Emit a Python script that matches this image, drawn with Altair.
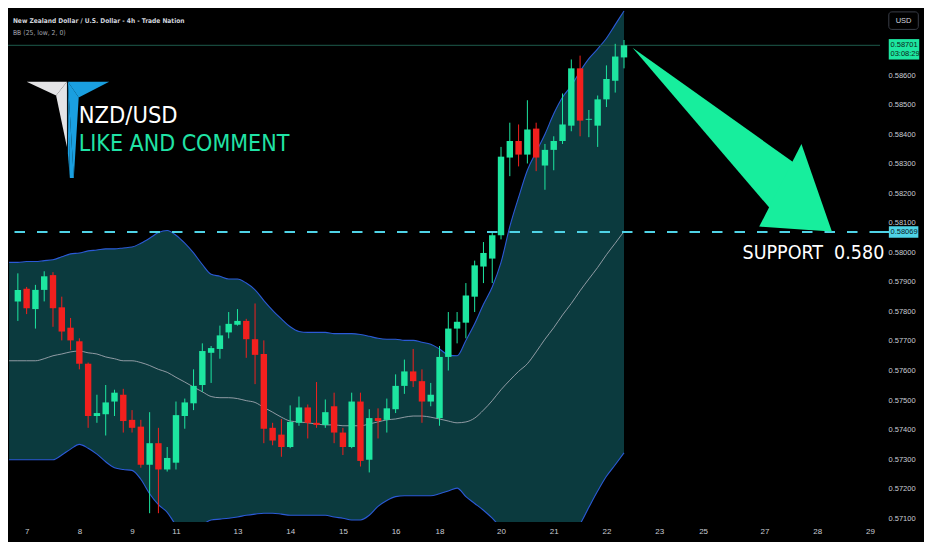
import altair as alt
import pandas as pd

# ---------------- data ----------------
opens = [0.57834,0.57877,0.57808,0.57873,0.57923,0.57814,0.57745,0.57699,0.57623,0.57446,
         0.57452,0.57495,0.57518,0.57433,0.57410,0.57281,0.57354,0.57265,0.57288,0.57446,
         0.57489,0.57551,0.57660,0.57673,0.57729,0.57755,0.57768,0.57706,0.57656,0.57406,
         0.57383,0.57341,0.57423,0.57475,0.57423,0.57416,0.57479,0.57390,0.57341,0.57495,
         0.57298,0.57439,0.57433,0.57469,0.57548,0.57597,0.57564,0.57495,0.57439,0.57646,
         0.57742,0.57762,0.57850,0.57952,0.57979,0.58058,0.58321,0.58377,0.58331,0.58419,
         0.58294,0.58347,0.58377,0.58429,0.58623,0.58449,0.58429,0.58518,0.58581,0.58660]
closes = [0.57873,0.57811,0.57873,0.57919,0.57811,0.57732,0.57702,0.57623,0.57446,0.57456,
          0.57492,0.57525,0.57429,0.57406,0.57281,0.57354,0.57265,0.57304,0.57449,0.57492,
          0.57548,0.57666,0.57676,0.57719,0.57758,0.57768,0.57706,0.57653,0.57403,0.57363,
          0.57341,0.57426,0.57475,0.57423,0.57416,0.57459,0.57390,0.57341,0.57495,0.57294,
          0.57439,0.57429,0.57472,0.57548,0.57597,0.57564,0.57495,0.57518,0.57646,0.57742,
          0.57765,0.57854,0.57956,0.57998,0.58058,0.58324,0.58377,0.58331,0.58416,0.58321,
          0.58347,0.58377,0.58433,0.58623,0.58446,0.58452,0.58518,0.58587,0.58663,0.58701]
highs = [0.57929,0.57883,0.57890,0.57936,0.57933,0.57850,0.57778,0.57709,0.57627,0.57518,
         0.57551,0.57535,0.57538,0.57466,0.57433,0.57459,0.57406,0.57341,0.57495,0.57505,
         0.57604,0.57692,0.57683,0.57752,0.57798,0.57808,0.57775,0.57827,0.57702,0.57423,
         0.57436,0.57482,0.57512,0.57485,0.57561,0.57502,0.57525,0.57406,0.57525,0.57525,
         0.57469,0.57472,0.57505,0.57587,0.57637,0.57673,0.57604,0.57558,0.57683,0.57798,
         0.57798,0.57896,0.57972,0.58035,0.58071,0.58357,0.58439,0.58433,0.58515,0.58439,
         0.58367,0.58393,0.58538,0.58653,0.58666,0.58482,0.58531,0.58633,0.58706,0.58719]
lows = [0.57768,0.57791,0.57742,0.57834,0.57748,0.57702,0.57669,0.57604,0.57406,0.57423,
        0.57380,0.57446,0.57390,0.57390,0.57271,0.57117,0.57117,0.57258,0.57265,0.57403,
        0.57466,0.57528,0.57558,0.57640,0.57709,0.57752,0.57643,0.57554,0.57354,0.57347,
        0.57308,0.57337,0.57413,0.57370,0.57406,0.57406,0.57354,0.57314,0.57337,0.57275,
        0.57255,0.57370,0.57390,0.57456,0.57521,0.57544,0.57423,0.57479,0.57413,0.57600,
        0.57692,0.57709,0.57798,0.57896,0.57896,0.58044,0.58258,0.58291,0.58301,0.58275,
        0.58212,0.58278,0.58367,0.58410,0.58393,0.58390,0.58357,0.58492,0.58541,0.58623]

# Bollinger Bands (25, low, 2) read per bar, bar 0 .. 70
bb_upper = [0.57966,0.57966,0.57969,0.57969,0.57972,0.57975,0.57985,0.57995,0.57998,0.58005,0.58008,
            0.58012,0.58012,0.58015,0.58018,0.58031,0.58048,0.58067,0.58074,0.58058,0.58031,
            0.57998,0.57959,0.57926,0.57919,0.57910,0.57910,0.57896,0.57873,0.57837,0.57804,
            0.57775,0.57748,0.57732,0.57729,0.57729,0.57729,0.57725,0.57725,0.57725,0.57722,
            0.57716,0.57709,0.57706,0.57706,0.57702,0.57702,0.57696,0.57689,0.57673,0.57653,
            0.57650,0.57702,0.57758,0.57824,0.57883,0.57966,0.58087,0.58186,0.58278,0.58340,
            0.58400,0.58469,0.58525,0.58564,0.58613,0.58656,0.58689,0.58725,0.58771,0.58817]
bb_basis = [0.57633,0.57633,0.57633,0.57633,0.57640,0.57650,0.57656,0.57663,0.57666,0.57660,0.57656,
            0.57646,0.57640,0.57633,0.57633,0.57627,0.57617,0.57604,0.57594,0.57577,0.57561,
            0.57544,0.57528,0.57512,0.57508,0.57508,0.57505,0.57498,0.57492,0.57475,0.57459,
            0.57442,0.57429,0.57426,0.57423,0.57419,0.57416,0.57416,0.57413,0.57413,0.57413,
            0.57419,0.57426,0.57433,0.57436,0.57442,0.57446,0.57446,0.57442,0.57436,0.57429,
            0.57423,0.57426,0.57439,0.57466,0.57498,0.57535,0.57567,0.57597,0.57623,0.57663,
            0.57706,0.57745,0.57788,0.57827,0.57870,0.57910,0.57949,0.57992,0.58031,0.58071]
bb_lower = [0.57298,0.57298,0.57298,0.57298,0.57298,0.57298,0.57314,0.57334,0.57350,0.57337,0.57317,
            0.57291,0.57271,0.57265,0.57262,0.57232,0.57183,0.57146,0.57120,0.57077,0.57051,
            0.57051,0.57077,0.57094,0.57097,0.57100,0.57104,0.57110,0.57114,0.57117,0.57117,
            0.57114,0.57110,0.57110,0.57110,0.57110,0.57110,0.57104,0.57100,0.57094,0.57094,
            0.57110,0.57140,0.57160,0.57173,0.57176,0.57176,0.57176,0.57176,0.57183,0.57192,
            0.57202,0.57173,0.57150,0.57127,0.57100,0.57067,0.57035,0.57002,0.56985,0.56985,
            0.56985,0.57002,0.57025,0.57051,0.57081,0.57137,0.57192,0.57242,0.57281,0.57321]

tick_bars = [2, 8, 14, 19, 26, 32, 38, 44, 49, 56, 62, 68, 74, 79, 86, 92, 98]
tick_days = ["7", "8", "9", "11", "13", "14", "15", "16", "18", "20", "21", "22", "23", "25", "27", "28", "29"]
price_ticks = [0.571, 0.572, 0.573, 0.574, 0.575, 0.576, 0.577, 0.578, 0.579,
               0.580, 0.581, 0.582, 0.583, 0.584, 0.585, 0.586]
support_price = 0.58069
last_price = 0.58701
last_time = "03:08:29"

# ---------------- styling ----------------
GREEN = "#1de6a0"
RED = "#f2201e"
FILL = "#0b3a3e"
BLUE = "#2b5ad6"
BASIS = "#a7abb5"
CYAN = "#4fd3e6"
ARROW = "#17ee9d"
TXT = "#c9ccd4"
NARROW = "Liberation Sans Narrow, DejaVu Sans Condensed, Arial Narrow, sans-serif"
SANS = "Liberation Sans, Arial, sans-serif"

PW, PH = 872, 514
SX, SY = PW / 888.0, PH / 529.0

xs = alt.Scale(domain=[0.4475, 98.57], nice=False, zero=False)
ys = alt.Scale(domain=[0.570872, 0.588273], nice=False, zero=False)

label_expr = "".join(f"datum.value == {b} ? '{d}' : " for b, d in zip(tick_bars, tick_days)) + "''"
x_axis = alt.Axis(values=tick_bars, labelExpr=label_expr, title=None, domain=False, ticks=False,
                  grid=False, labelColor=TXT, labelFontSize=8, labelFont=SANS, labelPadding=5,
                  labelFlush=False, labelOverlap=False)
y_axis = alt.Axis(orient="right", values=price_ticks, format=".5f", title=None, domain=False,
                  ticks=False, grid=False, labelColor=TXT, labelFontSize=7.5, labelFont=SANS,
                  labelPadding=8, labelOverlap=False, labelFlush=False)


def X(f):
    return alt.X(f, type="quantitative", scale=xs, axis=x_axis)


def Y(f):
    return alt.Y(f, type="quantitative", scale=ys, axis=y_axis)


band = pd.DataFrame({"bar": list(range(0, 71)), "upper": bb_upper, "basis": bb_basis, "lower": bb_lower})
cdf = pd.DataFrame({"bar": list(range(1, 71)), "o": opens, "c": closes, "h": highs, "l": lows})
cdf["dir"] = ["up" if c >= o else "down" for o, c in zip(opens, closes)]
colour = alt.Color("dir:N", scale=alt.Scale(domain=["up", "down"], range=[GREEN, RED]), legend=None)

area = alt.Chart(band).mark_area(color=FILL, clip=True, interpolate="monotone").encode(
    x=X("bar"), y=Y("lower"), y2=alt.Y2("upper"))
up_line = alt.Chart(band).mark_line(color=BLUE, strokeWidth=1.1, clip=True, interpolate="monotone").encode(
    x=X("bar"), y=Y("upper"))
lo_line = alt.Chart(band).mark_line(color=BLUE, strokeWidth=1.1, clip=True, interpolate="monotone").encode(
    x=X("bar"), y=Y("lower"))
mid_line = alt.Chart(band).mark_line(color=BASIS, strokeWidth=1, opacity=0.85, clip=True,
                                     interpolate="monotone").encode(x=X("bar"), y=Y("basis"))

last_df = pd.DataFrame({"p": [last_price], "t1": [f"{last_price:.5f}"], "t2": [last_time]})
sup_df = pd.DataFrame({"p": [support_price], "t": [f"{support_price:.5f}"]})

last_line = alt.Chart(last_df).mark_rule(color="#1d5a4c", strokeWidth=1).encode(y=Y("p"))
wicks = alt.Chart(cdf).mark_rule(strokeWidth=1, clip=True).encode(x=X("bar"), y=Y("l"), y2=alt.Y2("h"), color=colour)
bodies = alt.Chart(cdf).mark_bar(size=6.4, clip=True).encode(x=X("bar"), y=Y("o"), y2=alt.Y2("c"), color=colour)
sup_line = alt.Chart(sup_df).mark_rule(color=CYAN, strokeWidth=2, strokeDash=[10.5, 12]).encode(y=Y("p"))
sup_conn = alt.Chart(sup_df).mark_rule(color=CYAN, strokeWidth=2).encode(
    y=Y("p"), x=alt.value(PW), x2=alt.value(PW + 9))

cyan_tag = alt.Chart(sup_df).mark_point(shape="M-1,-0.39L1,-0.39L1,0.39L-1,0.39Z", filled=True,
                                         opacity=1, size=870, color=CYAN, strokeWidth=0).encode(
    x=alt.value(895.6), y=Y("p"))
cyan_txt = alt.Chart(sup_df).mark_text(align="left", baseline="middle", fontSize=7.5, font=SANS,
                                        color="#0c1a1e").encode(x=alt.value(882.5), y=Y("p"), text="t:N")
green_tag = alt.Chart(last_df).mark_point(shape="M-1,-0.67L1,-0.67L1,0.67L-1,0.67Z", filled=True,
                                           opacity=1, size=930, color=GREEN, strokeWidth=0,
                                           yOffset=4).encode(x=alt.value(896), y=Y("p"))
green_t1 = alt.Chart(last_df).mark_text(align="left", baseline="middle", fontSize=7.5, font=SANS,
                                         color="#0c1f19").encode(x=alt.value(882.5), y=Y("p"), text="t1:N")
green_t2 = alt.Chart(last_df).mark_text(align="left", baseline="middle", fontSize=7.5, font=SANS,
                                         color="#0c1f19", dy=8.7).encode(x=alt.value(882.5), y=Y("p"), text="t2:N")

main = alt.layer(area, up_line, lo_line, mid_line, last_line, wicks, bodies, sup_line, sup_conn,
                 cyan_tag, cyan_txt, green_tag, green_t1, green_t2)

# ---------------- decorations (logo, arrow, texts) in pixel space ----------------
shapes = {
    "w1": ("#e4e4e6", [(19, 76), (60, 76), (49, 90)]),
    "w2": ("#e4e4e6", [(49, 90), (60, 76), (60, 143)]),
    "b1": ("#1a9fe0", [(61, 76), (103, 76), (72, 92)]),
    "b2": ("#1a9fe0", [(61, 76), (72, 92), (67, 175)]),
    "b3": ("#1a9fe0", [(61, 76), (67, 175), (63, 175)]),
    "b4": ("#1a9fe0", [(61, 76), (63, 175), (61, 150)]),
    "a1": (ARROW, [(636, 41), (803, 161), (780, 211)]),
    "a2": (ARROW, [(808, 140), (839, 230), (765, 225)]),
}


def tri_rows(name, col, pts):
    p = sorted((x * SX, y * SY) for x, y in pts)
    (xa, ya), (xb, yb), (xc, yc) = p
    if abs(xa - xb) < 1e-9:
        rows = [(xa, ya, yb), (xc, yc, yc)]
    elif abs(xb - xc) < 1e-9:
        rows = [(xa, ya, ya), (xb, yb, yc)]
    else:
        ym = ya + (yc - ya) * (xb - xa) / (xc - xa)
        rows = [(xa, ya, ya), (xb, yb, ym), (xc, yc, yc)]
    return [{"shape": name, "col": col, "x": r[0], "y": r[1], "y2": r[2]} for r in rows]


poly_rows = []
for k, (col, pts) in shapes.items():
    poly_rows += tri_rows(k, col, pts)
poly = alt.Chart(pd.DataFrame(poly_rows)).mark_area(orient="vertical", opacity=1).encode(
    x=alt.X("x:Q", scale=None, axis=None),
    y=alt.Y("y:Q", scale=None, axis=None, stack=None),
    y2="y2:Q",
    detail="shape:N",
    color=alt.Color("col:N", scale=None, legend=None),
)

ONE = pd.DataFrame({"k": [0]})


def txt(s, x, y, size, color, font, weight="normal", align="left", baseline="alphabetic"):
    return alt.Chart(ONE).mark_text(text=s, align=align, baseline=baseline, fontSize=size, color=color,
                                    font=font, fontWeight=weight).encode(
        x=alt.value(x * SX), y=alt.value(y * SY))


usd_box = alt.Chart(ONE).mark_rect(fill="#000000", stroke="#3a3e48", strokeWidth=1, cornerRadius=3).encode(
    x=alt.value(880.8), x2=alt.value(910.3), y=alt.value(3.9), y2=alt.value(21.4))

texts = [
    txt("New Zealand Dollar / U.S. Dollar - 4h - Trade Nation", 5, 15.5, 6.6, "#d1d4dc", NARROW, "bold"),
    txt("BB (25, low, 2, 0)", 5, 28, 6.8, "#a3a6af", NARROW),
    txt("NZD/USD", 72, 118, 23.5, "#ffffff", NARROW),
    txt("LIKE AND COMMENT", 72, 147, 23, "#20e3a6", NARROW),
    txt("SUPPORT\u00a0\u00a00.580", 748, 258, 19.5, "#ffffff", NARROW),
]
usd_txt = alt.Chart(ONE).mark_text(text="USD", align="center", baseline="middle", fontSize=7.5,
                                   color="#d1d4dc", font=SANS).encode(x=alt.value(895.6), y=alt.value(12.6))

deco = alt.layer(poly, usd_box, usd_txt, *texts)

chart = alt.layer(main, deco).resolve_scale(x="independent", y="independent").properties(
    width=PW, height=PH,
    padding={"left": 0, "top": 0, "right": 44, "bottom": 20},
    autosize=alt.AutoSizeParams(type="none"),
    background="#000000",
).configure_view(stroke=None)

chart.save("out.html", embed_options={"renderer": "svg", "actions": False})
